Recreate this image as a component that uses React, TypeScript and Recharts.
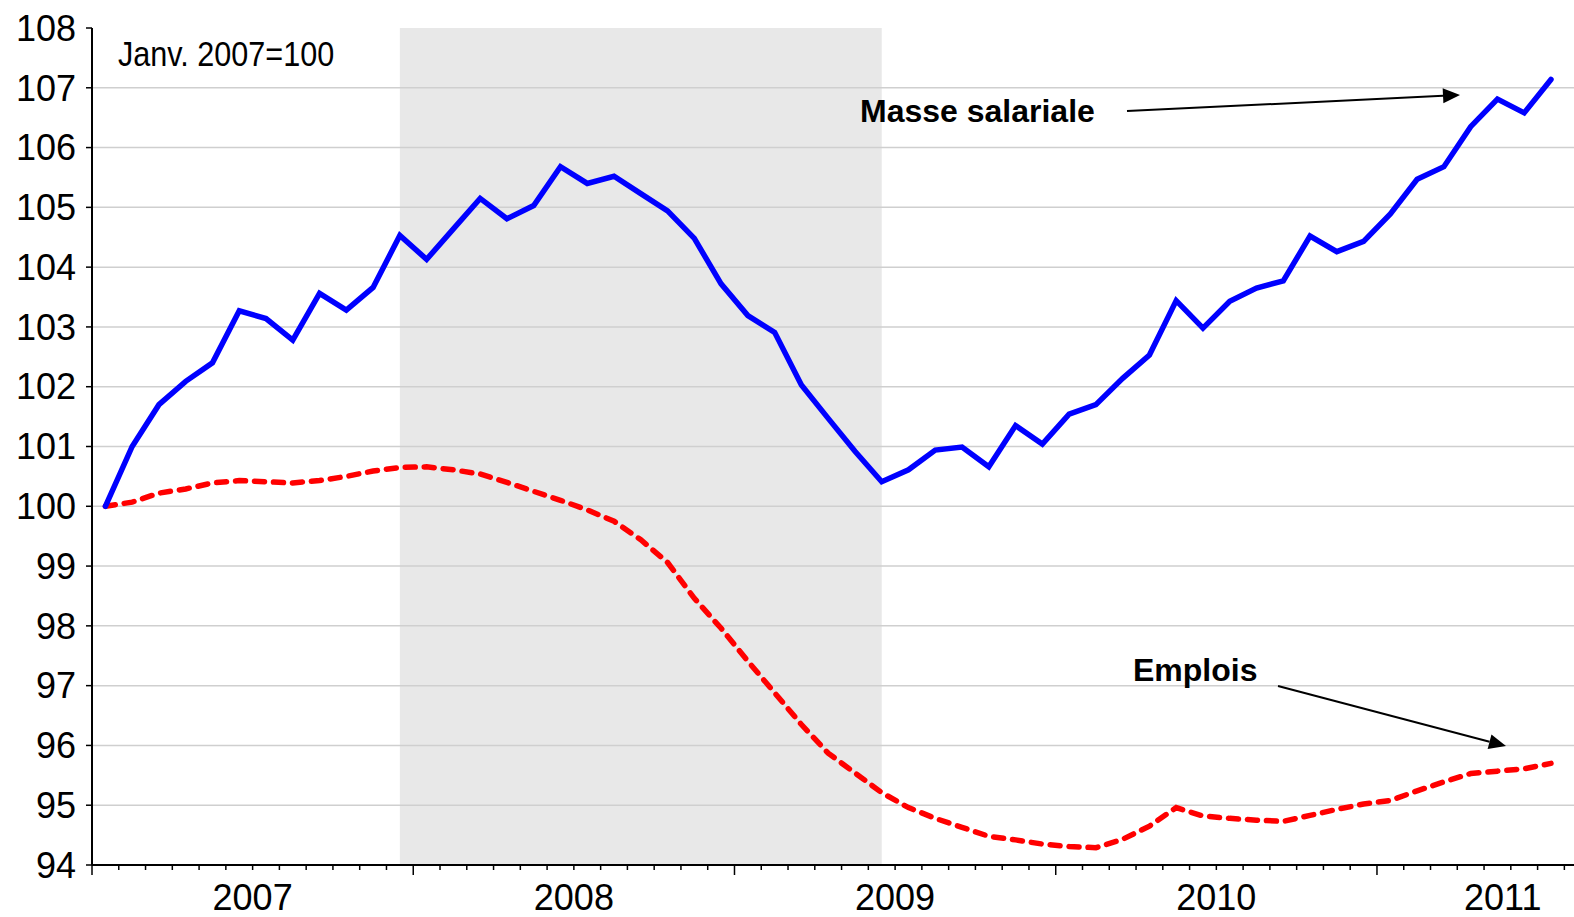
import React from 'react';
import { LineChart, Line, XAxis, YAxis, ReferenceArea, ReferenceLine } from 'recharts';

// ---- Data ----
const START_YEAR = 2007;
const YEAR_LABELS = ['2007', '2008', '2009', '2010', '2011'];
const YEAR_LABEL_POS = [5.5, 17.5, 29.5, 41.5, 52.2];
const Y_TICKS = [94, 95, 96, 97, 98, 99, 100, 101, 102, 103, 104, 105, 106, 107, 108];
const GRID_VALUES = [95, 96, 97, 98, 99, 100, 101, 102, 103, 104, 105, 106, 107];

const MASSE_SALARIALE = [
  100.0, 101.0, 101.7, 102.09, 102.4, 103.27, 103.14, 102.78, 103.56, 103.28, 103.66, 104.53,
  104.13, 104.64, 105.15, 104.81, 105.03, 105.68, 105.4, 105.52, 105.23, 104.94, 104.48, 103.72,
  103.19, 102.91, 102.03, 101.47, 100.92, 100.41, 100.61, 100.94, 100.99, 100.66, 101.35, 101.04,
  101.54, 101.7, 102.14, 102.53, 103.44, 102.98, 103.43, 103.65, 103.77, 104.52, 104.26, 104.43,
  104.89, 105.47, 105.68, 106.35, 106.81, 106.58, 107.14,
];

const EMPLOIS = [
  100.0, 100.07, 100.22, 100.29, 100.39, 100.43, 100.41, 100.39, 100.43, 100.5, 100.59, 100.65,
  100.66, 100.61, 100.54, 100.4, 100.25, 100.1, 99.94, 99.75, 99.44, 99.06, 98.46, 97.96,
  97.41, 96.88, 96.35, 95.87, 95.54, 95.21, 94.96, 94.78, 94.63, 94.48, 94.42, 94.35,
  94.31, 94.29, 94.43, 94.65, 94.96, 94.82, 94.78, 94.75, 94.73, 94.83, 94.93, 95.02,
  95.08, 95.24, 95.39, 95.53, 95.57, 95.61, 95.7,
];

const MONTHS = MASSE_SALARIALE.map(
  (_, i) => `${START_YEAR + Math.floor(i / 12)}-${String((i % 12) + 1).padStart(2, '0')}`
);
const RECESSION_START = '2007-12';
const RECESSION_END = '2009-06';

const data = MONTHS.map((m, i) => ({
  idx: i,
  month: m,
  masse: MASSE_SALARIALE[i],
  emplois: EMPLOIS[i],
}));

const monthBoundaries = Array.from({ length: MONTHS.length + 1 }, (_, k) => k - 0.5);
const X_TICKS = Array.from(new Set([...monthBoundaries, ...YEAR_LABEL_POS])).sort((a, b) => a - b);

const FONT = '"Liberation Sans", Arial, Helvetica, sans-serif';

const XTick = (props: any) => {
  const { x, y, payload } = props;
  const v: number = payload.value;
  const isBoundary = Number.isInteger(v + 0.5);
  const isYear = isBoundary && (v + 0.5) % 12 === 0;
  const li = YEAR_LABEL_POS.indexOf(v);
  return (
    <g>
      {isBoundary && (
        <line x1={x} x2={x} y1={y} y2={y + (isYear ? 10 : 5)} stroke="#000" strokeWidth={1.5} />
      )}
      {li >= 0 && (
        <text x={x} y={y + 45} textAnchor="middle" fontSize={36} fontFamily={FONT} fill="#000">
          {YEAR_LABELS[li]}
        </text>
      )}
    </g>
  );
};

const Arrow = ({ x1, y1, x2, y2 }: { x1: number; y1: number; x2: number; y2: number }) => {
  const dx = x2 - x1;
  const dy = y2 - y1;
  const len = Math.sqrt(dx * dx + dy * dy);
  const ux = dx / len;
  const uy = dy / len;
  const hl = 17;
  const hw = 7.5;
  const bx = x2 - ux * hl;
  const by = y2 - uy * hl;
  const p1 = `${bx - uy * hw},${by + ux * hw}`;
  const p2 = `${bx + uy * hw},${by - ux * hw}`;
  return (
    <g>
      <line x1={x1} y1={y1} x2={bx} y2={by} stroke="#000" strokeWidth={2} />
      <polygon points={`${x2},${y2} ${p1} ${p2}`} fill="#000" />
    </g>
  );
};

export default function App() {
  return (
    <div style={{ position: 'absolute', left: 0, top: 0, width: 1574, height: 917, background: '#fff' }}>
      <LineChart
        width={1574}
        height={917}
        data={data}
        margin={{ top: 28, right: 0, bottom: 0, left: 12 }}
      >
        <XAxis
          dataKey="idx"
          type="number"
          domain={[-0.5, 54.86]}
          ticks={X_TICKS}
          interval={0}
          tick={<XTick />}
          tickLine={false}
          tickSize={0}
          tickMargin={0}
          height={52}
          axisLine={{ stroke: '#000', strokeWidth: 2 }}
          allowDataOverflow
        />
        <YAxis
          type="number"
          domain={[94, 108]}
          ticks={Y_TICKS}
          interval={0}
          width={80}
          tickSize={6}
          tickMargin={10}
          tick={{ fill: '#000', fontSize: 36, fontFamily: FONT }}
          tickLine={{ stroke: '#000', strokeWidth: 1.5 }}
          axisLine={{ stroke: '#000', strokeWidth: 2 }}
          allowDataOverflow
        />
        <ReferenceArea
          x1={MONTHS.indexOf(RECESSION_START)}
          x2={MONTHS.indexOf(RECESSION_END)}
          y1={94}
          y2={108}
          fill="#e8e8e8"
          fillOpacity={1}
          stroke="none"
        />
        {GRID_VALUES.map((v) => (
          <ReferenceLine key={v} y={v} stroke="#cfcfcf" strokeWidth={1.5} />
        ))}
        <Line
          type="linear"
          dataKey="emplois"
          stroke="#ff0000"
          strokeWidth={5.5}
          strokeDasharray="10 9"
          strokeLinecap="round"
          dot={false}
          activeDot={false}
          isAnimationActive={false}
        />
        <Line
          type="linear"
          dataKey="masse"
          stroke="#0000ff"
          strokeWidth={5.5}
          strokeLinecap="round"
          dot={false}
          activeDot={false}
          isAnimationActive={false}
        />
      </LineChart>
      <svg
        width={1574}
        height={917}
        style={{ position: 'absolute', left: 0, top: 0, pointerEvents: 'none' }}
      >
        <text
          transform="translate(118,66) scale(0.85,1)"
          fontSize={36}
          fontFamily={FONT}
          fill="#000"
        >
          Janv. 2007=100
        </text>
        <text x={860} y={122} fontSize={32} fontWeight="bold" fontFamily={FONT} fill="#000">
          Masse salariale
        </text>
        <Arrow x1={1127} y1={111} x2={1460} y2={95} />
        <text x={1133} y={681} fontSize={32} fontWeight="bold" fontFamily={FONT} fill="#000">
          Emplois
        </text>
        <Arrow x1={1278} y1={686} x2={1506} y2={746} />
      </svg>
    </div>
  );
}
